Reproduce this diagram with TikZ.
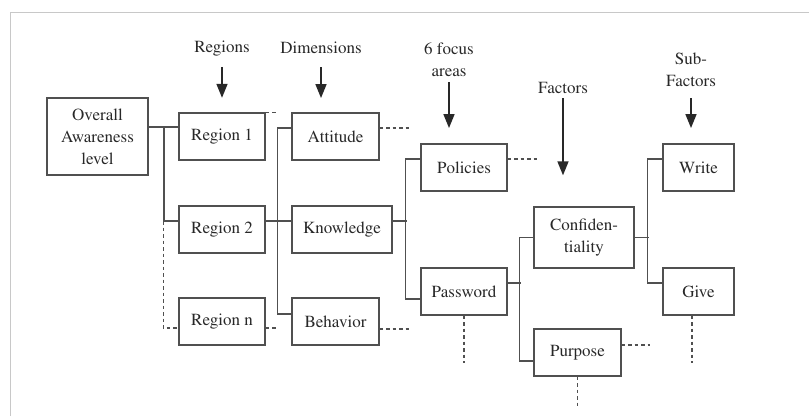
\documentclass[tikz,border=0pt]{standalone}
\usepackage[T1]{fontenc}
\renewcommand{\rmdefault}{ptm}
\usetikzlibrary{arrows.meta}
\definecolor{frame-gray}{RGB}{200, 200, 200}
\definecolor{line-gray}{RGB}{80, 80, 80}
\definecolor{text-gray}{RGB}{40, 40, 40}

\tikzset{
  box/.style={draw=line-gray, line width=1.3pt, minimum height=47pt, inner sep=1pt,
    align=center, text=text-gray},
  link/.style={draw=line-gray, line width=1.3pt},
  dashlink/.style={link, dash pattern=on 3.5pt off 3pt},
  lbl/.style={inner sep=0pt, align=center, text=text-gray},
  arr/.style={line width=1.6pt, draw=text-gray, -{Triangle[width=11pt,length=14pt]}}
}

\begin{document}
\begin{tikzpicture}[x=1pt, y=-1pt, every node/.style={font=\rmfamily\fontsize{17}{22}\selectfont}]
\useasboundingbox (0,0) rectangle (809,416);
\draw[frame-gray, line width=1pt] (10,416) -- (10,12) -- (809,12);

% boxes
\node[box, minimum width=101pt, minimum height=77pt] (overall) at (97.5,136.5) {Overall\\Awareness\\level};
\node[box, minimum width=86pt] (reg1) at (222,136.5) {Region 1};
\node[box, minimum width=86pt] (reg2) at (222,229.5) {Region 2};
\node[box, minimum width=86pt] (regn) at (222,321.5) {Region n};
\node[box, minimum width=87pt] (attitude) at (335.5,136.5) {Attitude};
\node[box, minimum width=100pt] (knowledge) at (342,229.5) {Knowledge};
\node[box, minimum width=87pt] (behavior) at (335.5,321.5) {Behavior};
\node[box, minimum width=86pt] (policies) at (464,167.5) {Policies};
\node[box, minimum width=86pt] (password) at (464,291.5) {Password};
\node[box, minimum width=100pt, minimum height=61pt] (confid) at (584,237.5) {Confiden-\\tiality};
\node[box, minimum width=87pt] (purpose) at (577.5,352.5) {Purpose};
\node[box, minimum width=71pt] (write) at (698.5,167.5) {Write};
\node[box, minimum width=71pt] (give) at (698.5,291.5) {Give};

% headings
\node[lbl] (lregions) at (222,49) {Regions};
\node[lbl] (ldimensions) at (321,48) {Dimensions};
\node[lbl] (lfocus) at (449,60) {6 focus\\areas};
\node[lbl] (lfactors) at (563,88) {Factors};
\node[lbl] (lsubfactors) at (691,70) {Sub-\\Factors};

\draw[arr] ([yshift=-10pt]lregions.south) -- ++(0,31);
\draw[arr] ([yshift=-13pt]ldimensions.south) -- ++(0,31);
\draw[arr] ([yshift=-5pt]lfocus.south) -- ++(0,46);
\draw[arr] ([yshift=-4.5pt]lfactors.south) -- ++(0,77);
\draw[arr] ([yshift=-11pt]lsubfactors.south) -- ++(0,30);

% regions
\coordinate (busA) at (164,127);
\draw[link] (overall.east |- busA) -- (reg1.west |- busA);
\draw[link] (busA) |- ([yshift=8.5pt]reg2.west);
\draw[dashlink] ([yshift=8.5pt]reg2.west) ++(-15,0) |- ([yshift=-6.5pt]regn.west);
\draw[dashlink] (reg1.north east) -- ++(12,0);
\draw[dashlink] ([yshift=-6.5pt]regn.east) -- ++(13,0);

% dimensions
\draw[link] ([yshift=8.5pt]reg2.east) -- ([yshift=8.5pt]knowledge.west);
\draw[link] ([yshift=8.5pt]attitude.west) -- ++(-14,0) |- ([yshift=7.5pt]behavior.west);
\draw[dashlink] ([yshift=8.5pt]attitude.east) -- ++(29,0);
\draw[dashlink] ([yshift=-7.5pt]behavior.east) -- ++(29,0);

% focus areas
\draw[link] ([yshift=8.5pt]knowledge.east) -- ++(14,0);
\draw[link] ([yshift=8.5pt]policies.west) -- ++(-15,0) |- ([yshift=-7.5pt]password.west);
\draw[dashlink] ([yshift=8.5pt]policies.east) -- ++(30,0);
\draw[dashlink] (password.south) -- ++(0,47);

% factors
\draw[link] ([yshift=8.5pt]password.east) -- ++(13,0);
\draw[link] (confid.west) -- ++(-14,0) |- ([yshift=-8.5pt]purpose.west);
\draw[dashlink] ([yshift=7.5pt]purpose.east) -- ++(28,0);
\draw[dashlink] (purpose.south) -- ++(0,31);

% sub-factors
\draw[link] (confid.east) -- ++(14,0);
\draw[link] ([yshift=8.5pt]write.west) -- ++(-15,0) |- ([yshift=8.5pt]give.west);
\draw[dashlink] ([xshift=-6.5pt]give.south) -- ++(0,47);
\end{tikzpicture}
\end{document}
